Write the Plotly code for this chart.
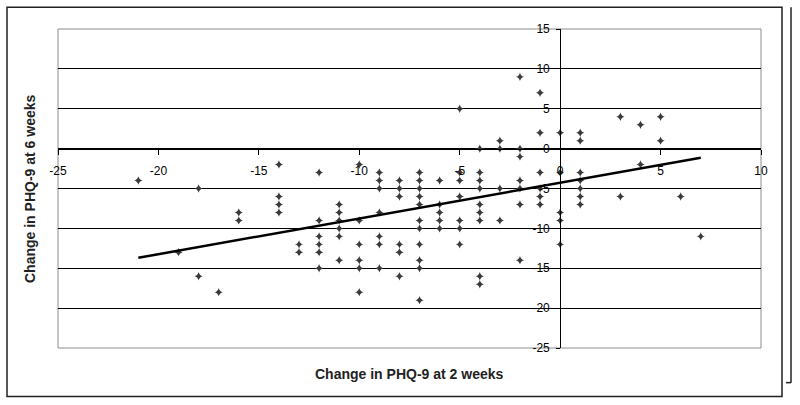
import numpy as np
import plotly.graph_objects as go

# Change in PHQ-9 at 2 weeks (x) and at 6 weeks (y), grouped by x value
x_m21 = [-4]
x_m19 = [-13]
x_m18 = [-5, -16]
x_m17 = [-18]
x_m16 = [-8, -9]
x_m14 = [-2, -6, -7, -8]
x_m13 = [-12, -13]
x_m12 = [-3, -9, -11, -12, -13, -15]
x_m11 = [-7, -8, -9, -10, -11, -14]
x_m10 = [-2, -9, -12, -14, -15, -18]
x_m9 = [-3, -4, -5, -8, -11, -12, -15]
x_m8 = [-4, -5, -6, -12, -13, -16]
x_m7 = [-3, -4, -5, -6, -7, -9, -10, -12, -14, -15, -19]
x_m6 = [-4, -7, -8, -9, -10]
x_m5 = [5, -3, -4, -6, -9, -10, -12]
x_m4 = [0, -3, -4, -5, -7, -8, -9, -16, -17]
x_m3 = [1, 0, -5, -9]
x_m2 = [9, 0, -1, -4, -5, -7, -14]
x_m1 = [7, 2, -3, -5, -6, -7]
x_0 = [2, -3, -8, -9, -12]
x_1 = [2, 1, -3, -4, -5, -6, -7]
x_3 = [4, -6]
x_4 = [3, -2]
x_5 = [4, 1]
x_6 = [-6]
x_7 = [-11]

groups = {
    -21: x_m21, -19: x_m19, -18: x_m18, -17: x_m17, -16: x_m16, -14: x_m14,
    -13: x_m13, -12: x_m12, -11: x_m11, -10: x_m10, -9: x_m9, -8: x_m8,
    -7: x_m7, -6: x_m6, -5: x_m5, -4: x_m4, -3: x_m3, -2: x_m2, -1: x_m1,
    0: x_0, 1: x_1, 3: x_3, 4: x_4, 5: x_5, 6: x_6, 7: x_7,
}

xs, ys = [], []
for xv, yl in groups.items():
    for yv in yl:
        xs.append(xv)
        ys.append(yv)
xs = np.array(xs, dtype=float)
ys = np.array(ys, dtype=float)

x_ticks = [-25, -20, -15, -10, -5, 0, 5, 10]
y_ticks = [-25, -20, -15, -10, -5, 0, 5, 10, 15]

slope, intercept = np.polyfit(xs, ys, 1)
tx = np.array([xs.min(), xs.max()])
ty = slope * tx + intercept

fig = go.Figure()
fig.add_trace(go.Scatter(
    x=xs, y=ys, mode="markers",
    marker=dict(symbol="star-diamond", size=6, color="#3a3a3a"),
    showlegend=False, hoverinfo="x+y",
))
fig.add_trace(go.Scatter(
    x=tx, y=ty, mode="lines",
    line=dict(color="black", width=2.5),
    showlegend=False, hoverinfo="skip",
))

font = "Liberation Sans, Arial, sans-serif"

fig.update_layout(
    width=800, height=405,
    margin=dict(l=58, r=39, t=29, b=57, autoexpand=False),
    paper_bgcolor="white", plot_bgcolor="white",
    font=dict(family=font, size=12, color="black"),
    xaxis=dict(
        range=[-25, 10], tickvals=x_ticks, ticktext=[str(v) for v in x_ticks],
        anchor="free", position=0.625, automargin=False,
        showgrid=False, zeroline=False,
        showline=True, linecolor="black", linewidth=1,
        ticks="outside", ticklen=5, tickcolor="black",
        ticklabelstandoff=6,
        tickfont=dict(family=font, size=12, color="black"),
    ),
    yaxis=dict(
        range=[-25, 15], tickvals=y_ticks, ticktext=[str(v) for v in y_ticks],
        anchor="free", position=25 / 35, automargin=False,
        showgrid=True, gridcolor="black", gridwidth=1,
        zeroline=False,
        showline=True, linecolor="black", linewidth=1,
        ticks="outside", ticklen=4, tickcolor="black",
        ticklabelstandoff=4,
        tickfont=dict(family=font, size=12, color="black"),
    ),
    shapes=[
        dict(type="rect", xref="x domain", yref="y domain", x0=0, x1=1, y0=0, y1=1,
             line=dict(color="#8c8c8c", width=1), layer="below"),
        dict(type="rect", xref="paper", yref="paper",
             x0=(7 - 58) / 703, x1=(782 - 58) / 703,
             y0=(348.3 - 397) / 319.6, y1=(348.3 - 7) / 319.6,
             line=dict(color="#222222", width=1.5)),
        dict(type="line", xref="paper", yref="paper",
             x0=(791 - 58) / 703, x1=(791 - 58) / 703,
             y0=(348.3 - 383) / 319.6, y1=(348.3 - 7) / 319.6,
             line=dict(color="#222222", width=1.5)),
        dict(type="line", xref="paper", yref="paper",
             x0=(786 - 58) / 703, x1=(791 - 58) / 703,
             y0=(348.3 - 383) / 319.6, y1=(348.3 - 383) / 319.6,
             line=dict(color="#222222", width=1.5)),
    ],
    annotations=[
        dict(text="<b>Change in PHQ-9 at 2 weeks</b>", xref="paper", yref="paper",
             x=(409 - 58) / 703, y=-(374 - 348.3) / 319.6,
             xanchor="center", yanchor="middle", showarrow=False,
             font=dict(family=font, size=14, color="#222222")),
        dict(text="<b>Change in PHQ-9 at 6 weeks</b>", xref="paper", yref="paper",
             x=(30 - 58) / 703, y=(348.3 - 189) / 319.6, textangle=-90,
             xanchor="center", yanchor="middle", showarrow=False,
             font=dict(family=font, size=14, color="#222222")),
    ],
)

fig.write_html(
    "out.html",
    config={"displayModeBar": False},
    post_script="document.body.style.margin='0';document.body.style.overflow='hidden';",
)
